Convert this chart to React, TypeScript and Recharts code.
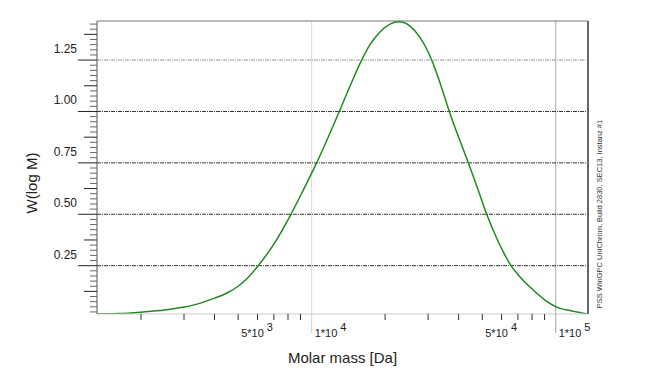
import React from "react";
import {
  LineChart,
  Line,
  XAxis,
  YAxis,
  ReferenceLine,
} from "recharts";

/* ======================================================
   DATA
====================================================== */
const molarMass = [
  1320, 1600, 2000, 2500, 3000, 3500, 4000, 4500, 5000, 5360, 6040, 7000,
  8225, 9000, 10000, 10480, 12980, 14500, 16030, 17340, 19050, 20940, 22800,
  25290, 27790, 31030, 33560, 36640, 43840, 48040, 52150, 58000, 65580, 71420,
  78460, 90400, 100300, 116600, 135600,
];
const wLogM = [
  0.015, 0.017, 0.024, 0.034, 0.049, 0.068, 0.092, 0.117, 0.15, 0.18, 0.25,
  0.355, 0.5, 0.59, 0.7, 0.75, 1.0, 1.135, 1.25, 1.325, 1.387, 1.425, 1.436,
  1.415, 1.36, 1.25, 1.14, 1.0, 0.75, 0.62, 0.5, 0.37, 0.25, 0.195, 0.146,
  0.083, 0.05, 0.03, 0.015,
];

const xTicks = [
  2000, 3000, 4000, 5000, 6000, 7000, 8000, 9000, 10000, 20000, 30000, 40000,
  50000, 60000, 70000, 80000, 90000, 100000,
];
const xLabels: Record<number, [string, string]> = {
  5000: ["5*10", "3"],
  10000: ["1*10", "4"],
  50000: ["5*10", "4"],
  100000: ["1*10", "5"],
};
const yGridValues = [0.25, 0.5, 0.75, 1.0, 1.25];
// minor ticks every 0.025
const yTicks = Array.from({ length: 57 }, (_, i) => +((i + 1) * 0.025).toFixed(3));

const X_DOMAIN: [number, number] = [1320, 135600];
const Y_DOMAIN: [number, number] = [0.015, 1.44];

const chartData = molarMass.map((m, i) => ({ m, w: wLogM[i] }));

const FONT = "'Liberation Sans', Arial, sans-serif";

/* ======================================================
   TICKS
====================================================== */
function YTick(props: any) {
  const { x, y, payload } = props;
  const v = payload.value as number;
  const k = Math.round(v / 0.025);
  const isGrid = k % 10 === 0;
  const isMid = k % 5 === 0;
  const len = isGrid ? 19 : isMid ? 13 : 7;
  return (
    <g>
      <line x1={x - len} x2={x} y1={y} y2={y} stroke={isGrid || isMid ? "#222" : "#666"} strokeWidth={1} />
      {isGrid && (
        <text
          x={x - 20}
          y={y - 11}
          textAnchor="end"
          dominantBaseline="central"
          fontSize={12}
          fontFamily={FONT}
          fill="#222"
        >
          {v.toFixed(2)}
        </text>
      )}
    </g>
  );
}

function XTick(props: any) {
  const { x, y, payload } = props;
  const v = payload.value as number;
  const isDecade = v === 10000 || v === 100000;
  const lbl = xLabels[v];
  return (
    <g>
      {isDecade ? (
        <line x1={x} x2={x} y1={y} y2={y + 19} stroke={v === 10000 ? "#cfcfcf" : "#a0a0a0"} />
      ) : (
        <line x1={x} x2={x} y1={y} y2={y + 6} stroke="#333" />
      )}
      {lbl && (
        <text x={x + 3} y={y + 23} fontSize={11} fontFamily={FONT} fill="#222">
          <tspan>{lbl[0]}</tspan>
          <tspan dx={3} dy={-6} fontSize={11}>
            {lbl[1]}
          </tspan>
        </text>
      )}
    </g>
  );
}

/* ======================================================
   LABELS
====================================================== */
function XTitle(props: any) {
  const { viewBox } = props;
  return (
    <text
      x={viewBox.x + viewBox.width / 2}
      y={viewBox.y + 49}
      textAnchor="middle"
      fontSize={15}
      fontFamily={FONT}
      fill="#222"
    >
      Molar mass [Da]
    </text>
  );
}

function YTitle() {
  return (
    <text
      x={31}
      y={183}
      transform="rotate(-90 31 183)"
      textAnchor="middle"
      dominantBaseline="central"
      fontSize={15}
      fontFamily={FONT}
      fill="#222"
    >
      W(log M)
    </text>
  );
}

function SideNote(props: any) {
  const { viewBox } = props;
  const cx = viewBox.x + 11;
  const cy = 214;
  return (
    <text
      x={cx}
      y={cy}
      transform={`rotate(-90 ${cx} ${cy})`}
      textAnchor="middle"
      dominantBaseline="central"
      fontSize={7.5}
      fontFamily={FONT}
      fill="#333"
    >
      PSS WinGPC UniChrom, Build 2830, SEC13, Instanz #1
    </text>
  );
}

/* ======================================================
   COMPONENT
====================================================== */
export default function App() {
  return (
    <div style={{ position: "absolute", left: 0, top: 0, width: 663, height: 379, background: "#fff" }}>
      <LineChart
        width={663}
        height={379}
        data={chartData}
        margin={{ top: 21, right: 55, bottom: 35, left: 37 }}
      >
        <XAxis
          dataKey="m"
          type="number"
          scale="log"
          domain={X_DOMAIN}
          allowDataOverflow
          ticks={xTicks}
          interval={0}
          height={30}
          tickSize={0}
          tickMargin={0}
          tickLine={false}
          axisLine={{ stroke: "#cccccc" }}
          tick={<XTick />}
          label={{ content: (p: any) => <XTitle {...p} /> }}
        />
        <YAxis
          type="number"
          domain={Y_DOMAIN}
          allowDataOverflow
          ticks={yTicks}
          interval={0}
          width={60}
          tickSize={0}
          tickMargin={0}
          tickLine={false}
          axisLine={{ stroke: "#555" }}
          tick={<YTick />}
          label={{ content: () => <YTitle /> }}
        />
        <YAxis
          yAxisId="right"
          orientation="right"
          type="number"
          domain={Y_DOMAIN}
          width={20}
          tick={false}
          tickLine={false}
          axisLine={{ stroke: "#666", strokeWidth: 2 }}
          label={{ content: (p: any) => <SideNote {...p} /> }}
        />

        <ReferenceLine x={10000} stroke="#d8d8d8" />
        <ReferenceLine x={100000} stroke="#a8a8a8" />
        {yGridValues.map((v) => (
          <ReferenceLine
            key={v}
            y={v}
            stroke={v === 1.25 ? "#9a9a9a" : "#333"}
            strokeDasharray="4 1 1 1"
          />
        ))}
        <ReferenceLine y={Y_DOMAIN[1]} stroke="#777" />

        <Line
          type="monotone"
          dataKey="w"
          stroke="#1f8a22"
          strokeWidth={1.5}
          dot={false}
          isAnimationActive={false}
        />
      </LineChart>
    </div>
  );
}
